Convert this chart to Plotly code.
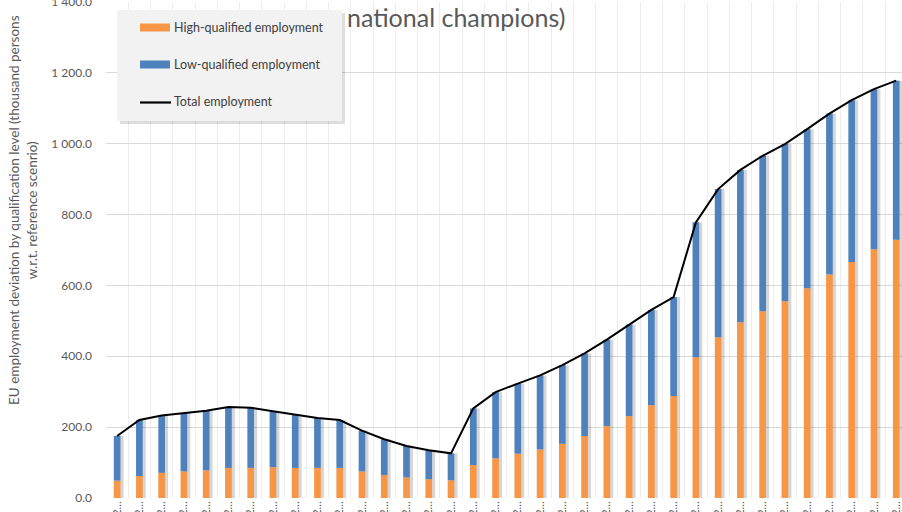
import plotly.graph_objects as go

# ---- data ----
years = [str(y) for y in range(2015, 2051)]          # 36 categories
tick_labels = ["2\u2026"] * len(years)               # truncated labels as shown

high_qualified = [49, 62, 71, 75, 78, 85, 85, 87, 85, 85, 85, 75, 65, 58, 53, 50,
                  93, 112, 125, 137, 153, 175, 203, 231, 262, 288,
                  397, 454, 496, 527, 555, 592, 631, 666, 702, 729]
low_qualified = [126, 158, 162, 165, 168, 172, 170, 158, 150, 141, 135, 115, 101, 89, 82, 76,
                 160, 187, 198, 209, 222, 233, 244, 259, 269, 279,
                 381, 418, 430, 439, 444, 449, 454, 457, 452, 449]
total_employment = [175, 220, 233, 240, 246, 257, 255, 245, 235, 226, 220, 190, 166, 147, 135, 126,
                    253, 299, 323, 346, 375, 408, 447, 490, 531, 567,
                    778, 872, 926, 966, 999, 1041, 1085, 1123, 1154, 1178]

series_names = ["High-qualified employment", "Low-qualified employment", "Total employment"]
y_title = "EU employment deviation by qualification level (thousand persons<br>w.r.t. reference scenrio)"
title_text = "national champions)"

ORANGE = "#F79646"
BLUE = "#4F81BD"
GREY_TXT = "#595959"
FONT = "Lato"

W, H = 902, 512
L, R, T, B = 106, 0, 2, 14
PW, PH = W - L - R, H - T - B


def px(x):
    return (x - L) / PW


def py(y):
    return (H - B - y) / PH


fig = go.Figure()

# shadow behind bars (Excel style)
fig.add_trace(go.Bar(x=years, y=total_employment, width=0.3, offset=-0.15 + 0.14,
                     marker=dict(color="rgba(0,0,0,0.16)", line=dict(width=0)),
                     showlegend=False, hoverinfo="skip"))
fig.add_trace(go.Bar(x=years, y=high_qualified, name=series_names[0], width=0.3, offset=-0.15,
                     marker=dict(color=ORANGE, line=dict(width=0)), showlegend=False))
fig.add_trace(go.Bar(x=years, y=low_qualified, base=high_qualified, name=series_names[1],
                     width=0.3, offset=-0.15,
                     marker=dict(color=BLUE, line=dict(width=0)), showlegend=False))
fig.add_trace(go.Scatter(x=years, y=total_employment, name=series_names[2], mode="lines",
                         line=dict(color="black", width=2), showlegend=False))

fig.update_layout(
    width=W, height=H,
    margin=dict(l=L, r=R, t=T, b=B, autoexpand=False),
    barmode="overlay",
    plot_bgcolor="white", paper_bgcolor="white",
    separators=". ",
    font=dict(family=FONT, color=GREY_TXT, size=11),
)

fig.update_xaxes(
    type="category", range=[-0.5, 35.26],
    tickmode="array", tickvals=years, ticktext=tick_labels,
    tickangle=-90, tickson="boundaries",
    showgrid=True, gridcolor="#EDEDED", gridwidth=1,
    ticks="", showline=False, zeroline=False,
    tickfont=dict(size=11, color=GREY_TXT, family=FONT),
    automargin=False,
)
fig.update_yaxes(
    range=[0, 1400.01], tickmode="array",
    tickvals=[0, 200, 400, 600, 800, 1000, 1200, 1400], tickformat=",.1f",
    showgrid=True, gridcolor="#D9D9D9", gridwidth=1.3,
    zeroline=False, showline=False, ticks="",
    ticklabelstandoff=13, ticklabeloverflow="allow",
    tickfont=dict(size=12, color=GREY_TXT, family=FONT),
    automargin=False,
)

shapes = []
# legend shadow and box
shapes.append(dict(type="rect", xref="paper", yref="paper",
                   x0=px(120), x1=px(345), y0=py(13), y1=py(124),
                   fillcolor="rgba(0,0,0,0.13)", line=dict(width=0), layer="above"))
shapes.append(dict(type="rect", xref="paper", yref="paper",
                   x0=px(117), x1=px(342), y0=py(10), y1=py(121),
                   fillcolor="#F2F2F2", line=dict(width=0), layer="above"))
# legend swatches
shapes.append(dict(type="rect", xref="paper", yref="paper",
                   x0=px(140), x1=px(170), y0=py(23.5), y1=py(31.5),
                   fillcolor=ORANGE, line=dict(width=0), layer="above"))
shapes.append(dict(type="rect", xref="paper", yref="paper",
                   x0=px(140), x1=px(170), y0=py(60.5), y1=py(68.5),
                   fillcolor=BLUE, line=dict(width=0), layer="above"))
shapes.append(dict(type="line", xref="paper", yref="paper",
                   x0=px(140), x1=px(171), y0=py(102.5), y1=py(102.5),
                   line=dict(color="black", width=2.2), layer="above"))
fig.update_layout(shapes=shapes)

annotations = []
for name, yy in zip(series_names, [27.5, 64.5, 101.5]):
    annotations.append(dict(text=name, xref="paper", yref="paper", x=px(172), y=py(yy),
                            xanchor="left", yanchor="middle", showarrow=False,
                            font=dict(family=FONT, size=12.5, color="#404040")))
annotations.append(dict(text=title_text, xref="paper", yref="paper", x=px(345), y=py(17),
                        xanchor="left", yanchor="middle", showarrow=False,
                        font=dict(family=FONT, size=25, color=GREY_TXT)))
annotations.append(dict(text=y_title, xref="paper", yref="paper", x=px(23), y=py(210),
                        xanchor="center", yanchor="middle", showarrow=False, textangle=-90,
                        font=dict(family=FONT, size=13.5, color=GREY_TXT)))
fig.update_layout(annotations=annotations)

fig.write_html("out.html", config={"displayModeBar": False},
               post_script="document.body.style.margin='0px';"
                           "document.body.style.overflow='hidden';")
